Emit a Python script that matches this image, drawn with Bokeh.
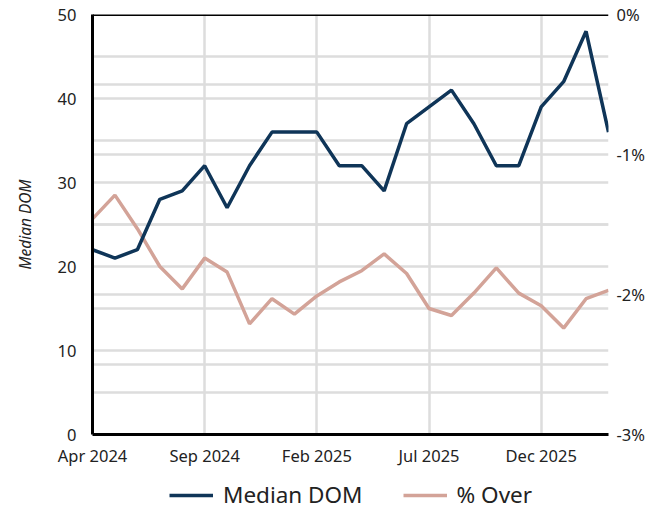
from bokeh.plotting import figure
from bokeh.layouts import column
from bokeh.models import (Range1d, LinearAxis, FixedTicker, Grid, Legend, LegendItem, Span)
from bokeh.embed import file_html
from bokeh.resources import INLINE

months = ["Apr 2024", "May 2024", "Jun 2024", "Jul 2024", "Aug 2024", "Sep 2024",
          "Oct 2024", "Nov 2024", "Dec 2024", "Jan 2025", "Feb 2025", "Mar 2025",
          "Apr 2025", "May 2025", "Jun 2025", "Jul 2025", "Aug 2025", "Sep 2025",
          "Oct 2025", "Nov 2025", "Dec 2025", "Jan 2026", "Feb 2026", "Mar 2026"]
median_dom = [22, 21, 22, 28, 29, 32, 27, 32, 36, 36, 36, 32,
              32, 29, 37, 39, 41, 37, 32, 32, 39, 42, 48, 36]
pct_over = [-1.46, -1.29, -1.53, -1.80, -1.96, -1.74, -1.84, -2.21, -2.03, -2.14, -2.01, -1.91,
            -1.83, -1.71, -1.85, -2.10, -2.15, -1.99, -1.81, -1.99, -2.08, -2.24, -2.03, -1.97]
series_names = ["Median DOM", "% Over"]
x_label_idx = [0, 5, 10, 15, 20]
left_ticks = [0, 10, 20, 30, 40, 50]
left_grid = [5, 10, 15, 20, 25, 30, 35, 40, 45]
right_ticks = [-3, -2, -1, 0]
right_grid = [-2.5, -2, -1.5, -1, -0.5]

FONT = "Noto Sans"
NAVY = "#0f3558"
PINK = "#d3a398"
GRID = "#dddddd"
TXT = "#222222"

x = list(range(len(months)))

p = figure(output_backend="svg", toolbar_location=None,
           width=647, height=469,
           x_range=Range1d(0, len(months) - 1), y_range=Range1d(0, 50),
           min_border_left=92, min_border_top=14, min_border_right=35, min_border_bottom=34)
p.outline_line_color = None
p.background_fill_color = "white"
p.extra_y_ranges = {"pct": Range1d(-3, 0)}

# grids
p.xgrid.ticker = FixedTicker(ticks=x_label_idx)
p.xgrid.grid_line_color = GRID
p.xgrid.grid_line_width = 2.5
p.ygrid.ticker = FixedTicker(ticks=left_grid)
p.ygrid.grid_line_color = GRID
p.ygrid.grid_line_width = 2.5
rg = Grid(dimension=1, ticker=FixedTicker(ticks=right_grid), y_range_name="pct",
          grid_line_color=GRID, grid_line_width=2.5)
p.add_layout(rg)

# axes
def style_axis(ax):
    ax.major_tick_line_color = None
    ax.minor_tick_line_color = None
    ax.major_label_text_font = FONT
    ax.major_label_text_font_size = "16.5px"
    ax.major_label_text_color = TXT
    ax.axis_line_color = "black"
    ax.axis_line_width = 3

xa = p.xaxis[0]
style_axis(xa)
xa.ticker = FixedTicker(ticks=x_label_idx)
xa.major_label_overrides = {i: months[i] for i in x_label_idx}
xa.major_label_standoff = 3

ya = p.yaxis[0]
style_axis(ya)
ya.ticker = FixedTicker(ticks=left_ticks)
ya.axis_label = "Median DOM"
ya.axis_label_text_font = FONT
ya.axis_label_text_font_style = "italic"
ya.axis_label_text_font_size = "15.5px"
ya.axis_label_text_color = TXT
ya.major_label_standoff = 10
ya.axis_label_standoff = 19

ra = LinearAxis(y_range_name="pct")
style_axis(ra)
ra.axis_line_color = None
ra.ticker = FixedTicker(ticks=right_ticks)
ra.major_label_overrides = {t: f"{t}%" for t in right_ticks}
ra.major_label_standoff = 2
p.add_layout(ra, "right")

p.add_layout(Span(location=50, dimension="width", line_color="black", line_width=3))

r2 = p.line(x, pct_over, y_range_name="pct", line_color=PINK, line_width=3.5)
r1 = p.line(x, median_dom, line_color=NAVY, line_width=3.5)

# legend strip below the chart (key lines hold no data points)
nan = float("nan")
lg = figure(output_backend="svg", toolbar_location=None, width=647, height=49,
            x_range=Range1d(0, 1), y_range=Range1d(0, 1),
            min_border=0)
lg.axis.visible = False
lg.grid.visible = False
lg.outline_line_color = None
k1 = lg.line([nan], [nan], line_color=NAVY, line_width=3.5)
k2 = lg.line([nan], [nan], line_color=PINK, line_width=3.5)
legend = Legend(items=[LegendItem(label=series_names[0], renderers=[k1]),
                       LegendItem(label=series_names[1], renderers=[k2])],
                orientation="horizontal", location=(77, 8),
                label_text_font=FONT, label_text_font_size="22.5px", label_text_color=TXT,
                glyph_width=44, glyph_height=20, spacing=40, border_line_color=None,
                background_fill_alpha=0, margin=0, padding=0, label_standoff=10)
lg.add_layout(legend)

layout = column(p, lg, spacing=0)
open("out.html", "w").write(file_html(layout, INLINE))
